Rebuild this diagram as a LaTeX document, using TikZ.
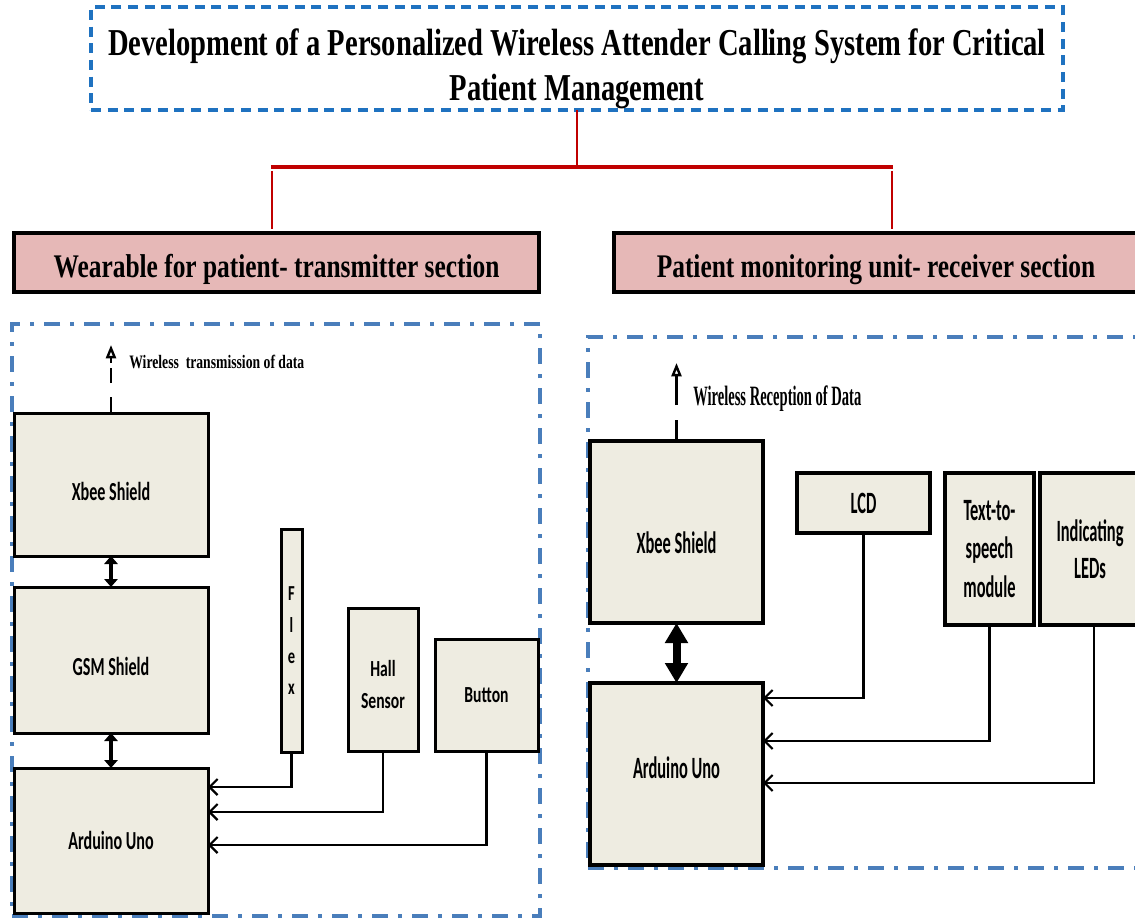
\documentclass[tikz,border=0pt]{standalone}
\usepackage{fontspec}
\usetikzlibrary{arrows.meta}
\newfontfamily\serA{Liberation Serif Bold}[FakeStretch=0.77]
\newfontfamily\serT{Liberation Serif Bold}[FakeStretch=0.752]
\newfontfamily\serB{Liberation Serif Bold}[FakeStretch=0.72]
\newfontfamily\serC{Liberation Serif Bold}[FakeStretch=0.52]
\newfontfamily\sanA{Carlito Bold}[FakeStretch=0.62]
\newfontfamily\sanB{Carlito Bold}[FakeStretch=0.68]
\newfontfamily\sanC{Carlito Bold}[FakeStretch=0.53]
\definecolor{tblue}{HTML}{1F72C0}
\definecolor{cblue}{HTML}{4A7EBB}
\definecolor{dred}{HTML}{C00000}
\definecolor{pinkfill}{HTML}{E6B8B7}
\definecolor{tanfill}{HTML}{EEECE1}
\newcommand\lowered[2]{\raisebox{-#1}[0pt][0pt]{#2}}
\tikzset{
  titlebox/.style={draw=tblue, line width=3pt, dash pattern=on 7.5pt off 5pt, inner sep=0pt, outer sep=0pt},
  titletext/.style={align=center, inner sep=0pt, font=\serT\fontsize{28.5pt}{33.75pt}\selectfont},
  secbox/.style={draw=black, line width=3pt, fill=pinkfill, inner sep=0pt, outer sep=0pt,
    font=\serA\fontsize{24.75pt}{28pt}\selectfont},
  container/.style={draw=cblue, line width=3pt, dash pattern=on 12pt off 7.5pt on 3pt off 7.5pt, inner sep=0pt, outer sep=0pt},
  box/.style={draw=black, line width=2.25pt, fill=tanfill, inner sep=0pt, outer sep=0pt, align=center},
  lbig/.style={box, font=\sanA\fontsize{19.5pt}{24pt}\selectfont},
  lsmall/.style={box, font=\sanB\fontsize{17.25pt}{24pt}\selectfont},
  rbox/.style={box, line width=2.5pt, font=\sanC\fontsize{23.25pt}{29pt}\selectfont},
  sz/.style 2 args={minimum width=#1, minimum height=#2},
  redline/.style={draw=dred, line width=1.8pt},
  redbar/.style={draw=dred, line width=3.6pt},
  inarr/.style={line width=1.6pt, -{Straight Barb[length=6pt,width=12pt]}},
  dblsmall/.style={line width=2.4pt, {Triangle[length=6pt,width=10pt]}-{Triangle[length=6pt,width=10pt]}},
  dblbig/.style={line width=6pt, {Triangle[length=15pt,width=16.5pt]}-{Triangle[length=15pt,width=16.5pt]}},
  wltx/.style={line width=1.8pt, dash pattern=on 12pt off 10.5pt on 11.25pt off 3.75pt, -{Triangle[open,length=10pt,width=7.5pt]}},
  wlrx/.style={line width=1.8pt, dash pattern=on 15.75pt off 11.25pt on 30pt, -{Triangle[open,length=10pt,width=7.5pt]}},
  smalllabel/.style={anchor=base west, inner sep=0pt, font=\serB\fontsize{14.25pt}{16pt}\selectfont},
  biglabel/.style={anchor=base west, inner sep=0pt, font=\serC\fontsize{21pt}{24pt}\selectfont},
}
\begin{document}
\begin{tikzpicture}[x=0.75pt,y=-0.75pt]
\useasboundingbox (0,0) rectangle (1135,920);
\begin{scope}
\clip (0,0) rectangle (1135,920);
\fill[white] (0,0) rectangle (1135,920);

% title
\node[titlebox, sz={729pt}{77.25pt}] (title) at (577,58.5) {};
\node[titletext] (titletxt) at (577,69) {Development of a Personalized Wireless Attender Calling System for Critical\\Patient Management};

% sections
\node[secbox, sz={393.75pt}{44.25pt}] (secL) at (276.5,262.5) {\lowered{10.9pt}{Wearable for patient- transmitter section}};
\node[secbox, sz={417pt}{44.25pt}] (secR) at (892,262.5) {\lowered{10.9pt}{Patient monitoring unit- receiver section}\hspace*{24pt}};

% red tree
\coordinate (jn) at (577,167);
\coordinate (bl) at (272,167);
\coordinate (br) at (892,167);
\draw[redline] (title.south) -- (jn);
\draw[redbar] ([xshift=-0.8pt]bl) -- ([xshift=0.8pt]br);
\draw[redline, shorten <=3pt, shorten >=3pt] (bl) -- (bl |- secL.north);
\draw[redline, shorten <=3pt, shorten >=3pt] (br) -- (br |- secR.north);

% containers
\node[container, sz={396pt}{444pt}] (contL) at (276,620) {};
\node[container, sz={421.5pt}{398.25pt}] (contR) at (869,602.5) {};

% left section
\node[lbig, sz={145.5pt}{107.25pt}] (xbeeL) at (111,484.5) {\lowered{12pt}{Xbee Shield}};
\node[lbig, sz={145.5pt}{109.5pt}] (gsmL) at (111,660) {\lowered{11.6pt}{GSM Shield}};
\node[lbig, sz={145.5pt}{108.75pt}] (arduL) at (111,840.5) {Arduino Uno};
\node[box, sz={15.75pt}{167.25pt}, font=\sanB\fontsize{16pt}{23.5pt}\selectfont] (flex) at (291.5,641) {F\\l\\e\\x};
\node[lsmall, sz={52.5pt}{107.25pt}] (hall) at (383,679.5) {\rule{0pt}{20pt}Hall\\Sensor};
\node[lsmall, sz={77.25pt}{84pt}] (button) at (486.5,695) {Button};

\draw[dblsmall] (xbeeL.south) -- (gsmL.north);
\draw[dblsmall] (gsmL.south) -- (arduL.north);

\coordinate (txtip) at (111,345);
\draw[wltx] (xbeeL.north) -- (txtip);
\node[smalllabel] (txlabel) at (129,368) {Wireless\ \ transmission of data};

\coordinate (fxturn) at (291.5,787);
\coordinate (hlturn) at (383,812);
\coordinate (btturn) at (486.5,845);
\draw[inarr] (flex.south) -- (fxturn) -- (fxturn -| arduL.east);
\draw[inarr] (hall.south) -- (hlturn) -- (hlturn -| arduL.east);
\draw[inarr] (button.south) -- (btturn) -- (btturn -| arduL.east);

% right section
\node[rbox, sz={129.75pt}{136.5pt}] (xbeeR) at (676.5,532) {\lowered{15.75pt}{Xbee Shield}};
\node[rbox, sz={129.75pt}{136.5pt}] (arduR) at (676.5,774) {\lowered{3pt}{Arduino Uno}};
\node[rbox, sz={99.75pt}{45pt}] (lcd) at (863.5,503) {LCD};
\node[rbox, sz={66.75pt}{114pt}] (tts) at (989.5,549) {Text-to-\\speech\\module};
\node[rbox, sz={97.5pt}{114pt}, font=\sanC\fontsize{23.25pt}{28pt}\selectfont] (leds) at (1105,549) {Indicating\hspace*{22.5pt}\\LEDs\hspace*{22.5pt}};

\draw[dblbig] (xbeeR.south) -- (arduR.north);

\coordinate (rxtip) at (676.5,363);
\draw[wlrx] (xbeeR.north) -- (rxtip);
\node[biglabel] (rxlabel) at (693,405) {Wireless Reception of Data};

\coordinate (lcdturn) at (863.5,698);
\coordinate (ttsturn) at (989.5,741);
\coordinate (ledturn) at (1094,783);
\draw[inarr] (lcd.south) -- (lcdturn) -- (lcdturn -| arduR.east);
\draw[inarr] (tts.south) -- (ttsturn) -- (ttsturn -| arduR.east);
\draw[inarr] (ledturn |- leds.south) -- (ledturn) -- (ledturn -| arduR.east);
\end{scope}
\end{tikzpicture}
\end{document}
